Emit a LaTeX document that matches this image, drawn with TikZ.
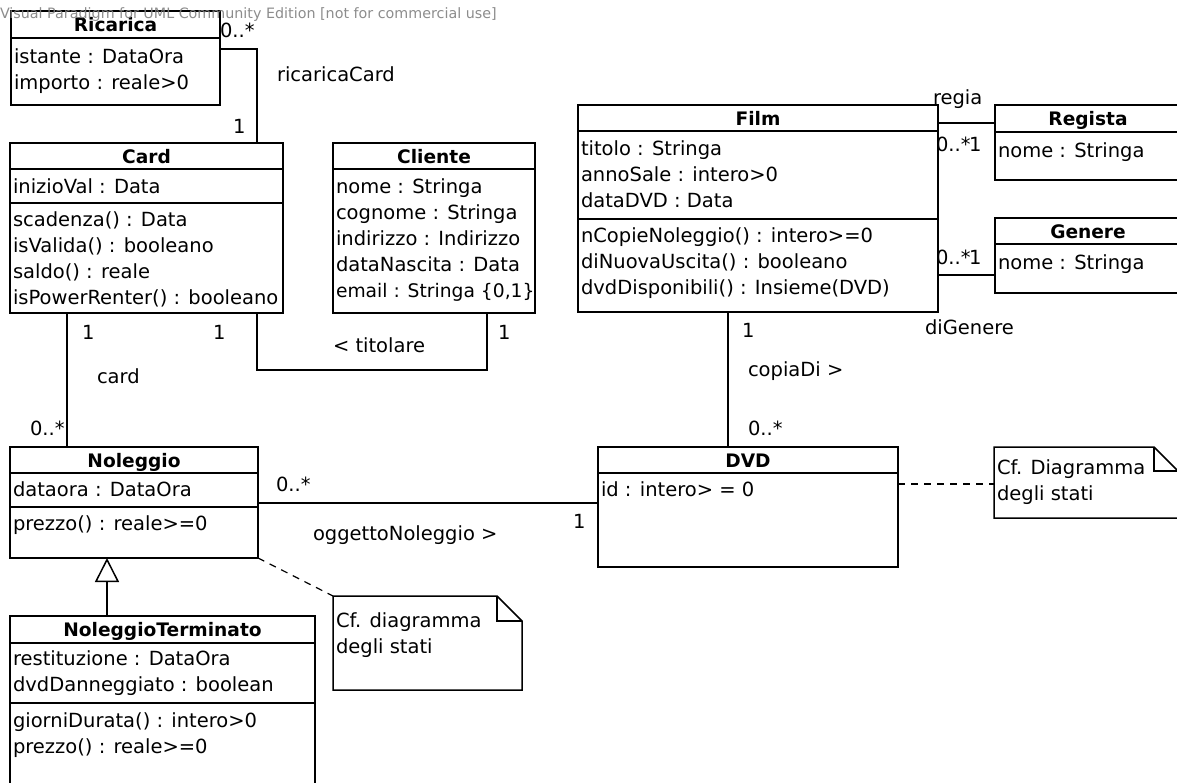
\documentclass[tikz,border=0pt]{standalone}
\usepackage{fontspec}
\setmainfont{DejaVu Sans}
\usetikzlibrary{arrows.meta}
\newcommand\umlfont{\fontsize{19.5}{24}\selectfont}
\newcommand\umlttlfont{\fontsize{18.6}{24}\selectfont\bfseries}
\newcommand\umlsep[2]{\draw[ln] ([yshift=-#2]#1.north west) -- ([yshift=-#2]#1.north east);}
\newcommand\umlattrs[5]{\foreach \t [count=\i from 0] in {#5} {\node[att] (#1\i) at (#2, {#3+#4*\i}) {\t};}}
\begin{document}
\begin{tikzpicture}[x=1pt,y=-1pt,
  every node/.style={inner sep=0pt, outer sep=0pt},
  ln/.style={line width=1.5pt, black},
  cls/.style={draw, ln, fill=white, anchor=north west},
  notebox/.style={anchor=north west},
  ttl/.style={anchor=base, font=\umlttlfont},
  att/.style={anchor=base west, font=\umlfont},
  lbl/.style={anchor=base west, font=\umlfont},
  notelink/.style={line width=1.2pt, black, dash pattern=on 7pt off 6pt},
  gen/.style={ln, -{Triangle[open, length=24pt, width=24pt, fill=white]}}
]
\useasboundingbox (0,0) rectangle (1177,782);
\clip (0,0) rectangle (1177,782);

% ---------- classes ----------
\node[cls, minimum width=209, minimum height=94] (ricarica) at (11,11) {};
\umlsep{ricarica}{27}
\node[ttl] (ricaricaT) at ([yshift=-20]ricarica.north) {Ricarica};
\umlattrs{ricaricaA}{14}{63}{26}{istante : DataOra, importo : reale>0}

\node[cls, minimum width=273, minimum height=170] (card) at (10,143) {};
\umlsep{card}{26}
\umlsep{card}{60}
\node[ttl] (cardT) at ([yshift=-20]card.north) {Card};
\umlattrs{cardA}{13}{193}{26}{inizioVal : Data}
\umlattrs{cardM}{13}{226}{26}{scadenza() : Data, isValida() : booleano, saldo() : reale, isPowerRenter() : booleano}

\node[cls, minimum width=202, minimum height=170] (cliente) at (333,143) {};
\umlsep{cliente}{26}
\node[ttl] (clienteT) at ([yshift=-20]cliente.north) {Cliente};
\umlattrs{clienteA}{336}{193}{26}{nome : Stringa, cognome : Stringa, indirizzo : Indirizzo, dataNascita : Data, {{\fontsize{18.7}{24}\selectfont email : Stringa \{0,1\}}}}

\node[cls, minimum width=360, minimum height=207] (film) at (578,105) {};
\umlsep{film}{26}
\umlsep{film}{114}
\node[ttl] (filmT) at ([yshift=-20]film.north) {Film};
\umlattrs{filmA}{581}{155}{26}{titolo : Stringa, annoSale : intero>0, dataDVD : Data}
\umlattrs{filmM}{581}{242}{26}{nCopieNoleggio() : intero>=0, diNuovaUscita() : booleano, dvdDisponibili() : Insieme(DVD)}

\node[cls, minimum width=186, minimum height=75] (regista) at (995,105) {};
\umlsep{regista}{27}
\node[ttl] (registaT) at ([yshift=-20]regista.north) {Regista};
\umlattrs{registaA}{998}{157}{26}{nome : Stringa}

\node[cls, minimum width=186, minimum height=75] (genere) at (995,218) {};
\umlsep{genere}{26}
\node[ttl] (genereT) at ([yshift=-20]genere.north) {Genere};
\umlattrs{genereA}{998}{269}{26}{nome : Stringa}

\node[cls, minimum width=248, minimum height=111] (noleggio) at (10,447) {};
\umlsep{noleggio}{26}
\umlsep{noleggio}{60}
\node[ttl] (noleggioT) at ([yshift=-20]noleggio.north) {Noleggio};
\umlattrs{noleggioA}{13}{496}{26}{dataora : DataOra}
\umlattrs{noleggioM}{13}{530}{26}{prezzo() : reale>=0}

\node[cls, minimum width=305, minimum height=180] (nolterm) at (10,616) {};
\umlsep{nolterm}{27}
\umlsep{nolterm}{87}
\node[ttl] (noltermT) at ([yshift=-20]nolterm.north) {NoleggioTerminato};
\umlattrs{noltermA}{13}{665}{26}{restituzione : DataOra, dvdDanneggiato : boolean}
\umlattrs{noltermM}{13}{727}{26}{giorniDurata() : intero>0, prezzo() : reale>=0}

\node[cls, minimum width=300, minimum height=120] (dvd) at (598,447) {};
\umlsep{dvd}{26}
\node[ttl] (dvdT) at ([yshift=-20]dvd.north) {DVD};
\umlattrs{dvdA}{601}{496}{26}{id : intero> = 0}

% ---------- notes ----------
\node[notebox, minimum width=189, minimum height=94] (note1) at (333,596) {};
\draw[ln, fill=white] (note1.north west) -- ([xshift=-25]note1.north east) -- ([yshift=-25]note1.north east) -- (note1.south east) -- (note1.south west) -- cycle;
\draw[ln] ([xshift=-25]note1.north east) |- ([yshift=-25]note1.north east);
\umlattrs{note1T}{336}{627}{26}{Cf. diagramma, degli stati}

\node[notebox, minimum width=184, minimum height=71] (note2) at (994,447) {};
\draw[ln, fill=white] (note2.north west) -- ([xshift=-24]note2.north east) -- ([yshift=-24]note2.north east) -- (note2.south east) -- (note2.south west) -- cycle;
\draw[ln] ([xshift=-24]note2.north east) |- ([yshift=-24]note2.north east);
\umlattrs{note2T}{997}{474}{26}{Cf. Diagramma, degli stati}

% ---------- connectors ----------
\draw[ln] ([yshift=-38]ricarica.north east) -| ([xshift=247]card.north west);
\draw[ln] ([xshift=247]card.south west) -- ++(0,57) -| ([xshift=154]cliente.south west);
\draw[ln] ([xshift=57]card.south west) -- ([xshift=57]noleggio.north west);
\draw[ln] ([xshift=150]film.south west) -- ([xshift=130]dvd.north west);
\draw[ln] ([yshift=-56]noleggio.north east) -- ([yshift=-56]dvd.north west);
\draw[ln] ([yshift=-18]film.north east) -- ([yshift=-18]regista.north west);
\draw[ln] ([yshift=-170]film.north east) -- ([yshift=-57]genere.north west);
\draw[gen] ([xshift=97]nolterm.north west) -- ([xshift=97]noleggio.south west);
\draw[notelink] (noleggio.south east) -- (note1.north west);
\draw[notelink] ([yshift=-37]dvd.north east) -- ([yshift=-37]note2.north west);

% ---------- labels ----------
\node[lbl] (l1) at (220,37) {0..*};
\node[lbl] (l2) at (233,133) {1};
\node[lbl] (l3) at (277,81) {ricaricaCard};
\node[lbl] (l4) at (82,339) {1};
\node[lbl] (l5) at (213,339) {1};
\node[lbl] (l6) at (498,339) {1};
\node[lbl] (l7) at (333,352) {< titolare};
\node[lbl] (l8) at (97,383) {card};
\node[lbl] (l9) at (30,435) {0..*};
\node[lbl] (l10) at (742,337) {1};
\node[lbl] (l11) at (748,376) {copiaDi >};
\node[lbl] (l12) at (748,435) {0..*};
\node[lbl] (l13) at (276,491) {0..*};
\node[lbl] (l14) at (573,528) {1};
\node[lbl] (l15) at (313,540) {oggettoNoleggio >};
\node[lbl] (l16) at (933,104) {regia};
\node[lbl] (l17) at (936,151) {0..*};
\node[lbl] (l18) at (969,151) {1};
\node[lbl] (l19) at (936,264) {0..*};
\node[lbl] (l20) at (969,264) {1};
\node[lbl] (l21) at (925,334) {diGenere};

% ---------- watermark ----------
\node[anchor=base west, font=\fontsize{14.3}{17}\selectfont, text=black!50, opacity=0.9] (wm) at (0,18) {Visual Paradigm for UML Community Edition [not for commercial use]};
\end{tikzpicture}
\end{document}
